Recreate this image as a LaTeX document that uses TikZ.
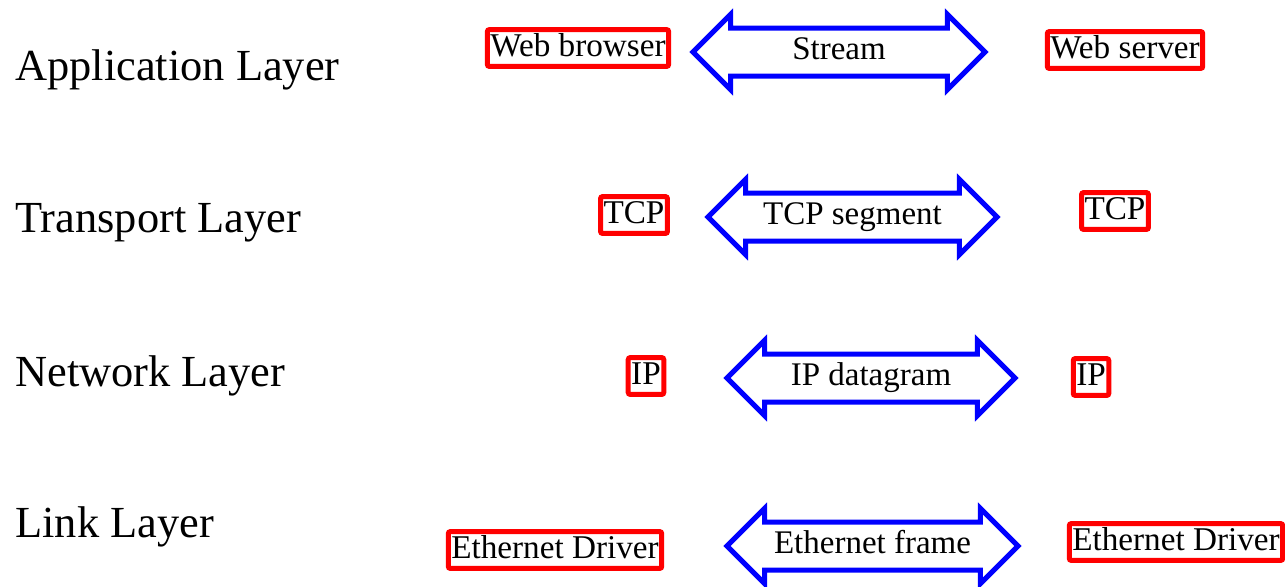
\documentclass[tikz,border=0pt]{standalone}
\usepackage{fontspec}
\setmainfont{Liberation Serif}
\usetikzlibrary{shapes.arrows}
\definecolor{boxred}{RGB}{255,0,0}
\definecolor{arrowblue}{RGB}{0,0,255}
\begin{document}
\begin{tikzpicture}[x=0.5pt,y=-0.5pt,
  layer/.style={anchor=base west,inner sep=0pt,font=\fontsize{22.2}{26}\selectfont},
  entity/.style={draw=boxred,line width=2.5pt,rounded corners=1pt,inner xsep=1.5pt,inner ysep=1.5pt,
    text height=11.8pt,text depth=3.6pt,font=\fontsize{16.6}{20}\selectfont},
  unit/.style={double arrow,draw=arrowblue,line width=2.5pt,fill=white,
    double arrow head extend=6.8pt,double arrow tip angle=90,
    inner xsep=0pt,inner ysep=3.5pt,text height=11pt,text depth=3.5pt,
    font=\fontsize{16.5}{19}\selectfont}]
\useasboundingbox (0,0) rectangle (1285,586);

% layer names
\node[layer] (app)  at (15,80)  {Application Layer};
\node[layer] (tra)  at (15,232) {Transport Layer};
\node[layer] (net)  at (15,386) {Network Layer};
\node[layer] (lnk)  at (15,537) {Link Layer};

% protocol entities on each host
\node[entity] (webb) at (578,48)  {Web browser};
\node[entity] (webs) at (1125,50) {Web server};
\node[entity] (tcpl) at (634,215) {TCP};
\node[entity] (tcpr) at (1115,211) {TCP};
\node[entity] (ipl)  at (646,376) {IP};
\node[entity] (ipr)  at (1091,377) {IP};
\node[entity] (ethl) at (555,550) {Ethernet Driver};
\node[entity] (ethr) at (1176,542) {Ethernet Driver};

% data units exchanged between peers
\node[unit,minimum height=146pt] (stream) at (839,52)  {Stream};
\node[unit,minimum height=144.5pt] (seg)  at (852.5,217) {TCP segment};
\node[unit,minimum height=144pt] (dgram)  at (871,378) {IP datagram};
\node[unit,minimum height=145.5pt] (frame) at (872.5,546) {Ethernet frame};
\end{tikzpicture}
\end{document}
